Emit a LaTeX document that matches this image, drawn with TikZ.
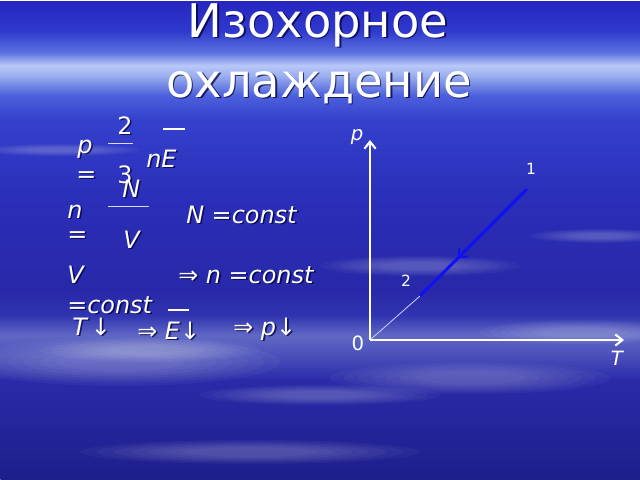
\documentclass[tikz,border=0pt]{standalone}
\usepackage{fontspec}
\setmainfont{DejaVu Sans}
\usetikzlibrary{arrows.meta,decorations.markings}

\definecolor{skyA}{HTML}{1E1E8C}
\definecolor{skyB}{HTML}{24249A}
\definecolor{skyC}{HTML}{2A2AA8}
\definecolor{skyD}{HTML}{4A50BA}
\definecolor{skyE}{HTML}{6068C4}
\definecolor{skyF}{HTML}{3034B0}
\definecolor{skyG}{HTML}{2828A8}
\definecolor{skyH}{HTML}{2A2EB8}
\definecolor{skyI}{HTML}{3440CC}
\definecolor{skyJ}{HTML}{4C60DC}
\definecolor{skyK}{HTML}{9CB0F0}
\definecolor{skyL}{HTML}{B8C8F8}
\definecolor{skyM}{HTML}{5A70E0}
\definecolor{skyN}{HTML}{2E38CC}
\definecolor{skyO}{HTML}{2626C0}
\definecolor{procblue}{HTML}{1010F0}

\pgfdeclareverticalshading{sky}{16cm}{color(0cm)=(skyA); color(1.25cm)=(skyB);
  color(2.5cm)=(skyC); color(3.125cm)=(skyD); color(3.625cm)=(skyE);
  color(4.125cm)=(skyF); color(4.75cm)=(skyG); color(7cm)=(skyH);
  color(9cm)=(skyI); color(9.625cm)=(skyJ); color(10.125cm)=(skyK);
  color(10.375cm)=(skyL); color(10.7cm)=(skyM); color(11.25cm)=(skyN);
  color(12cm)=(skyO)}

% white text with a dark drop shadow
\newcommand\shtxt[4][txt]{%
  \node[#1,shd] (#2s) at (#3) {#4};
  \node[#1] (#2) at (#3) {#4};}

\begin{document}
\begin{tikzpicture}[x=0.025cm,y=-0.025cm,
  txt/.style={inner sep=0,anchor=base west,text=white,font=\itshape\fontsize{17}{20}\selectfont},
  num/.style={txt,font=\fontsize{17}{20}\selectfont},
  title/.style={inner sep=0,anchor=base,text=white,font=\fontsize{33}{36}\selectfont},
  shd/.style={text=black!75!blue,text opacity=.75,xshift=1.2pt,yshift=-1.2pt},
  bar/.style={white,line width=1.6pt},
  frac/.style={white!85!blue,line width=.6pt},
  axis/.style={white,line width=1.5pt,-{Straight Barb[length=5pt,width=8pt]}},
  proc/.style={procblue,line width=2.2pt,postaction={decorate},
    decoration={markings,mark=at position .65 with {\arrow{Straight Barb[length=5pt,width=9pt,line width=1.6pt]}}}},
  lab/.style={inner sep=0,text=white,font=\itshape\fontsize{14}{16}\selectfont},
  small/.style={inner sep=0,text=white,font=\fontsize{11}{13}\selectfont},
  cloud/.style={white,opacity=.035}]

\useasboundingbox (0,0) rectangle (640,480);
\node[inner sep=0,anchor=north west] (bg) at (0,0) {\pgfuseshading{sky}};

\foreach \cx/\cy/\rx/\ry in {120/362/160/24, 150/350/110/12, 470/378/140/16,
  580/332/100/12, 420/266/100/10, 600/236/70/7, 250/452/170/12, 60/150/80/6, 320/395/120/10}
  \foreach \s in {1,.9,.8,.7,.6,.5,.4}
    \fill[cloud] (\cx,\cy) ellipse [x radius=\s*\rx, y radius=\s*\ry];

\shtxt[title]{ttl1}{318,37}{Изохорное}
\shtxt[title]{ttl2}{319,97}{охлаждение}

\shtxt[num]{two}{117,134}{2}
\draw[bar] (163,129) -- (185,129);
\shtxt{p}{77,153}{p}
\draw[frac] (108,143) -- (133,143);
\shtxt{nE}{146,167}{nE}
\shtxt{eqa}{76,182}{=}
\shtxt[num]{three}{117,183}{3}
\shtxt{N}{122,197}{N}
\draw[frac] (108,206) -- (149,206);
\shtxt{n}{67,218}{n}
\shtxt{Nconst}{186,223}{N =const}
\shtxt{eqb}{67,242}{=}
\shtxt{V}{123,248}{V}
\shtxt{Va}{67,283}{V}
\shtxt{nconst}{178,283}{⇒ n =const}
\shtxt{Vconst}{67,313}{=const}
\draw[bar] (168,310) -- (189,310);
\shtxt{Tdown}{72,335}{T\,↓}
\shtxt{Edown}{137,339}{⇒ E↓}
\shtxt{pdown}{233,335}{⇒ p↓}

\coordinate (O) at (370,340);
\coordinate (ptop) at (370,140);
\coordinate (Tend) at (624,340);
\coordinate (s1) at (527,189);
\coordinate (s2) at (420,296);
\draw[white!80!blue,line width=.6pt] (O) -- (s2);
\draw[axis] (O) -- (ptop);
\draw[axis] (O) -- (Tend);
\draw[proc] (s1) -- (s2);

\node[lab] (lp) at (357,137) {p};
\node[lab,font=\fontsize{14}{16}\selectfont] (l0) at (358,343) {0};
\node[lab] (lT) at (617,358) {T};
\node[small] (l1) at (531,169) {1};
\node[small] (l2) at (406,281) {2};

\end{tikzpicture}
\end{document}
